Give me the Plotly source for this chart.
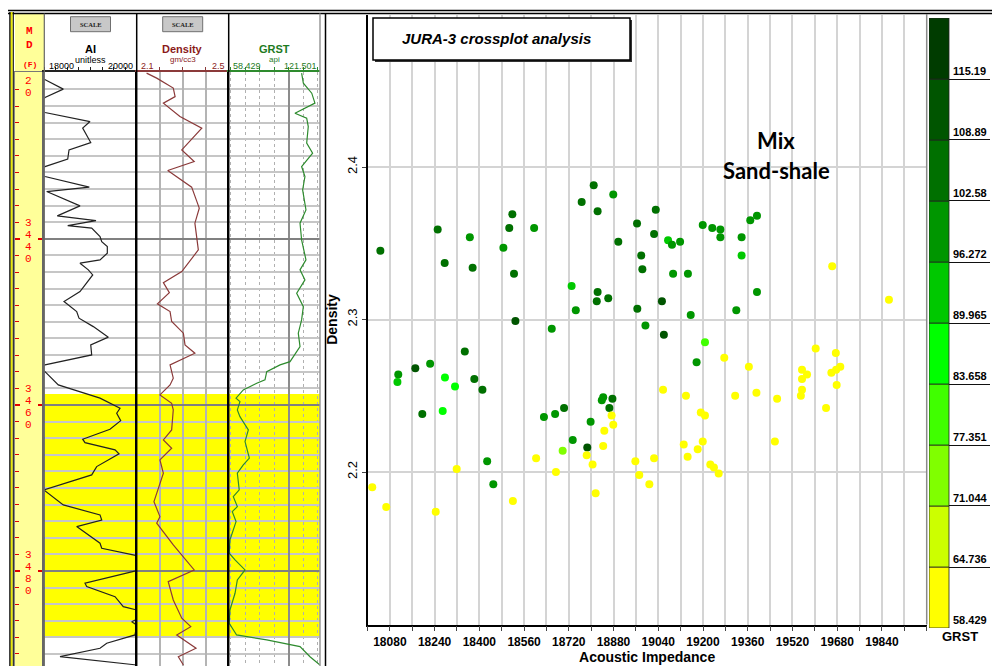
import plotly.graph_objects as go

W, H = 992, 666

# ---------------- well log curves (depth in ft) ----------------
AI_DEPTH = [3420.50, 3420.84, 3421.96, 3422.98, 3423.60, 3424.40, 3424.78, 3425.87, 3426.66, 3428.40,
            3429.28, 3430.40, 3431.29, 3431.70, 3432.20, 3432.49, 3433.77, 3434.30, 3436.02, 3437.23,
            3437.80, 3438.40, 3438.71, 3439.72, 3440.33, 3440.93, 3441.72, 3442.53, 3442.93, 3443.73,
            3444.34, 3446.35, 3447.55, 3448.76, 3449.55, 3450.57, 3451.84, 3452.77, 3453.98, 3455.18,
            3455.50, 3455.99, 3457.59, 3459.19, 3460.20, 3460.40, 3461.00, 3461.89, 3462.93, 3464.13,
            3464.54, 3465.42, 3465.90, 3467.43, 3468.43, 3470.24, 3472.05, 3473.25, 3473.86, 3474.66,
            3476.66, 3477.27, 3478.16, 3479.00, 3479.96, 3481.48, 3481.89, 3483.10, 3484.30, 3484.70,
            3485.30, 3486.11, 3486.51, 3487.71, 3488.71, 3489.31, 3490.33, 3491.33]
AI_VALUE = [17900, 18015, 18411, 18015, 17900, 17900, 18015, 18989, 18831, 19005,
            18535, 18507, 18015, 17900, 17900, 18015, 18974, 18052, 18773, 18281,
            19119, 18507, 19026, 19206, 19243, 19364, 19364, 19206, 18773, 18953,
            19048, 18773, 18427, 18701, 18751, 19061, 19386, 19005, 19026, 18015,
            17900, 18015, 18303, 19206, 19567, 19639, 19567, 19654, 19422, 18831,
            18881, 19531, 19617, 19134, 19026, 17990, 18411, 19206, 19243, 18701,
            19206, 19243, 20000, 20300, 20000, 18881, 18918, 19531, 19710, 20000,
            20200, 19892, 20000, 19964, 19351, 19206, 18340, 20000]

DEN_DEPTH = [3420.04, 3420.64, 3421.84, 3422.86, 3423.65, 3425.27, 3426.66, 3429.28, 3430.69, 3431.77,
             3433.77, 3436.30, 3438.11, 3439.72, 3441.33, 3443.94, 3445.27, 3446.47, 3447.83, 3448.76,
             3449.96, 3451.36, 3452.77, 3453.77, 3455.18, 3456.78, 3457.59, 3458.80, 3459.80, 3460.60,
             3463.01, 3464.22, 3465.22, 3466.63, 3468.23, 3471.65, 3473.46, 3474.25, 3476.87, 3479.88,
             3481.29, 3483.49, 3485.70, 3486.71, 3487.71, 3489.31, 3490.33, 3491.33]
DEN_VALUE = [2.143, 2.187, 2.259, 2.267, 2.216, 2.288, 2.383, 2.296, 2.350, 2.235,
             2.339, 2.372, 2.353, 2.361, 2.368, 2.296, 2.216, 2.242, 2.190, 2.245,
             2.252, 2.303, 2.310, 2.353, 2.245, 2.259, 2.245, 2.201, 2.252, 2.259,
             2.252, 2.216, 2.252, 2.201, 2.216, 2.175, 2.201, 2.187, 2.259, 2.350,
             2.237, 2.259, 2.296, 2.335, 2.274, 2.358, 2.281, 2.303]

GR_DEPTH = [3420.04, 3421.24, 3422.45, 3423.65, 3424.86, 3425.46, 3426.47, 3428.47, 3429.67, 3431.29,
            3432.49, 3434.10, 3436.51, 3438.11, 3440.12, 3442.53, 3443.73, 3444.94, 3446.54, 3448.16,
            3449.76, 3451.36, 3452.98, 3454.79, 3455.18, 3455.99, 3456.99, 3457.39, 3458.19, 3459.19,
            3459.60, 3460.60, 3461.41, 3463.01, 3464.42, 3466.42, 3467.23, 3468.23, 3470.24, 3471.05,
            3472.25, 3472.86, 3474.06, 3476.27, 3477.87, 3478.67, 3479.88, 3481.08, 3482.69, 3484.70,
            3486.30, 3487.71, 3488.31, 3489.12, 3490.33, 3491.33]
GR_VALUE = [108.8, 110.0, 115.8, 118.0, 104.2, 112.3, 113.4, 112.3, 116.4, 108.8,
            111.1, 109.5, 111.8, 107.7, 108.8, 111.8, 107.7, 111.1, 105.4, 110.0,
            108.8, 106.5, 107.7, 100.8, 93.9, 84.7, 83.5, 77.8, 68.5, 63.5,
            66.2, 64.4, 66.2, 72.0, 69.7, 72.7, 68.5, 64.4, 65.7, 61.6,
            64.4, 60.9, 63.5, 59.3, 58.8, 62.8, 69.7, 64.4, 62.8, 59.3,
            58.8, 63.9, 84.7, 107.7, 114.6, 121.5]

ZONE_TOP, ZONE_BASE = 3458.7, 3488.0
DEPTH_MARKS = [3420, 3440, 3460, 3480]
DEPTH_TOP, DEPTH_BOTTOM = 3419.9, 3491.45

AI_MIN, AI_MAX = 18000, 20000
DEN_MIN, DEN_MAX = 2.1, 2.5
GR_MIN, GR_MAX = 58.429, 121.501

# ---------------- crossplot samples ----------------
XP_AI = [18110, 18107, 18171, 18224, 18277, 18313, 18269, 18196, 18348, 18382,
         18411, 18529, 18659, 18745, 18820, 18861, 18965, 18994, 18428, 18450,
         18631, 18671, 18703, 18734, 18698, 18798, 18786, 18838, 18843, 18876,
         18865,
         18873, 18879, 18847, 18843, 18784, 18805, 18816, 18603, 18674, 18520,
         18319, 18244, 18067, 18017, 18958, 18972, 19008, 19025,
         18046, 18251, 18276, 18366, 18376, 18486, 18507, 18518, 18524, 18596,
         18730, 18766, 18809, 18823, 18823, 18879, 18897, 18964, 18979, 18983,
         19031, 19025, 19075, 19089, 19118, 19093, 19146, 19053, 19199, 19233,
         19262, 19262, 19338, 19338, 19369, 19393, 19393, 19319, 19662, 19865,
         19156, 19060, 19207, 19177,
         19276, 19364, 19057, 19139, 19315, 19391, 19465, 19192, 19207, 19603,
         19675, 19554, 19572, 19554, 19554, 19550, 19659, 19676, 19691, 19678,
         19640, 19457, 19131, 19199, 19181, 19145, 19226, 19239, 19256]
XP_DEN = [2.264, 2.259, 2.268, 2.271, 2.262, 2.256, 2.240, 2.238, 2.279, 2.261,
          2.254, 2.299, 2.294, 2.306, 2.312, 2.314, 2.307, 2.296, 2.207, 2.192,
          2.236, 2.238, 2.242, 2.221, 2.214, 2.233, 2.216, 2.247, 2.249, 2.248,
          2.242,
          2.237, 2.231, 2.227, 2.217, 2.211, 2.205, 2.186, 2.209, 2.200, 2.181,
          2.202, 2.174, 2.177, 2.190, 2.207, 2.198, 2.192, 2.209,
          2.345, 2.359, 2.337, 2.354, 2.334, 2.347, 2.360, 2.369, 2.330, 2.360,
          2.322, 2.377, 2.388, 2.371, 2.318, 2.382, 2.351, 2.363, 2.342, 2.333,
          2.372, 2.356, 2.352, 2.349, 2.351, 2.330, 2.330, 2.312, 2.362, 2.360,
          2.359, 2.354, 2.354, 2.342, 2.365, 2.368, 2.318, 2.306, 2.335, 2.313,
          2.303, 2.290, 2.285, 2.272,
          2.275, 2.269, 2.254, 2.250, 2.250, 2.252, 2.248, 2.239, 2.237, 2.281,
          2.278, 2.267, 2.264, 2.261, 2.254, 2.250, 2.265, 2.267, 2.269, 2.257,
          2.242, 2.220, 2.218, 2.220, 2.215, 2.210, 2.205, 2.203, 2.199]
XP_GR = [99, 90, 112, 99, 86, 86, 86, 106, 106, 106,
         106, 112, 99, 99, 106, 106, 106, 99, 99, 99,
         99, 99, 106, 99, 74, 99, 112, 99, 99, 106,
         106,
         61, 60, 62, 61, 60, 61, 62, 61, 60, 61,
         62, 61, 60, 61, 62, 61, 60, 61,
         106, 106, 106, 99, 106, 99, 106, 106, 106, 99,
         92, 106, 106, 106, 106, 99, 106, 106, 106, 106,
         106, 106, 92, 99, 99, 99, 99, 112, 99, 99,
         99, 99, 99, 92, 99, 99, 99, 99, 61, 61,
         99, 112, 80, 99,
         61, 60, 62, 61, 60, 61, 62, 61, 60, 61,
         62, 61, 60, 61, 62, 61, 60, 61, 62, 61,
         60, 61, 62, 61, 60, 61, 62, 61, 60]

X_TICKS = [18080, 18240, 18400, 18560, 18720, 18880, 19040, 19200, 19360, 19520, 19680, 19840]
Y_TICKS = [2.2, 2.3, 2.4]

BAND_EDGES = [58.429, 64.736, 71.044, 77.351, 83.658, 89.965, 96.272, 102.58, 108.89, 115.19, 121.501]
BAND_LABELS = ["58.429", "64.736", "71.044", "77.351", "83.658", "89.965", "96.272", "102.58", "108.89", "115.19"]
BAND_COLORS = ["#FFFF00", "#CCFF00", "#80FF00", "#40FF00", "#00FF00",
               "#00C800", "#009600", "#007000", "#005500", "#003C00"]

# ---------------- page geometry (pixels) ----------------
DEPTH_COL = (15, 44.3)
AI_COL = (44.3, 136.7)
DEN_COL = (136.7, 228.7)
GR_COL = (228.7, 320)
TRACK_TOP = 72
XP_XPX = (367.5, 926.7)
XP_YPX = (14.5, 624.5)
KEY_XPX = (929, 990)
KEY_YPX = (18, 628)
KEY_BAR_W = 20


def fx(px):
    return px / W


def fy(py):
    return 1 - py / H


PX_PER_FT = (H - TRACK_TOP) / (DEPTH_BOTTOM - DEPTH_TOP)
DEPTH_RANGE = [DEPTH_BOTTOM, DEPTH_TOP]
TRACK_DOMAIN = [0, fy(TRACK_TOP)]

# discrete colour scale for GRST
span = GR_MAX - GR_MIN
colorscale = []
for i, c in enumerate(BAND_COLORS):
    colorscale.append([(BAND_EDGES[i] - GR_MIN) / span, c])
    colorscale.append([(BAND_EDGES[i + 1] - GR_MIN) / span, c])
colorscale[0][0] = 0.0
colorscale[-1][0] = 1.0

fig = go.Figure()

# depth labels written vertically, one digit per line; digits above the
# top of the track are left out
DIGIT_STEP_PX, DIGIT_SHIFT_PX = 12.0, 2.0
dig_y, dig_t = [], []
for d in DEPTH_MARKS:
    s = str(d)
    for i, ch in enumerate(s):
        off_px = DIGIT_SHIFT_PX + (i - (len(s) - 1) / 2) * DIGIT_STEP_PX
        yv = d + off_px / PX_PER_FT
        if yv - 4 / PX_PER_FT < DEPTH_TOP:
            continue
        dig_y.append(yv)
        dig_t.append(ch)
fig.add_trace(go.Scatter(x=[0.45] * len(dig_y), y=dig_y, text=dig_t, mode="text",
                         textfont=dict(family="Liberation Mono", size=11, color="#FF0000"),
                         cliponaxis=True, hoverinfo="skip", xaxis="x", yaxis="y"))
fig.add_trace(go.Scatter(x=[0.5] * len(DEPTH_MARKS), y=DEPTH_MARKS, mode="markers",
                         marker=dict(opacity=0), hoverinfo="skip", xaxis="x", yaxis="y7"))

fig.add_trace(go.Scatter(x=AI_VALUE, y=AI_DEPTH, mode="lines", line=dict(color="#222222", width=1.2),
                         xaxis="x2", yaxis="y2", hoverinfo="skip"))
fig.add_trace(go.Scatter(x=DEN_VALUE, y=DEN_DEPTH, mode="lines", line=dict(color="#8B3A3A", width=1.2),
                         xaxis="x3", yaxis="y3", hoverinfo="skip"))
fig.add_trace(go.Scatter(x=GR_VALUE, y=GR_DEPTH, mode="lines", line=dict(color="#2E8B2E", width=1.2),
                         xaxis="x4", yaxis="y4", hoverinfo="skip"))

fig.add_trace(go.Scatter(x=XP_AI, y=XP_DEN, mode="markers",
                         marker=dict(size=8, color=XP_GR, colorscale=colorscale, cmin=GR_MIN, cmax=GR_MAX,
                                     line=dict(width=0), showscale=False),
                         xaxis="x5", yaxis="y5"))

# GRST colour key as stacked bars
fig.add_trace(go.Bar(x=[0.5] * len(BAND_COLORS),
                     y=[BAND_EDGES[i + 1] - BAND_EDGES[i] for i in range(len(BAND_COLORS))],
                     base=BAND_EDGES[:-1], width=1,
                     marker=dict(color=BAND_COLORS, line=dict(color="#222222", width=0.8)),
                     xaxis="x6", yaxis="y6", hoverinfo="skip"))


def track_y(anchor, linecolor):
    return dict(domain=TRACK_DOMAIN, range=DEPTH_RANGE, anchor=anchor, showticklabels=False, ticks="",
                zeroline=False, tick0=3400, dtick=20, showgrid=True, gridcolor="#808080", gridwidth=2,
                minor=dict(tick0=3400, dtick=2, showgrid=True, gridcolor="#C6C6C6", gridwidth=1.5),
                showline=True, linecolor=linecolor, linewidth=1.5)


def track_x(col, anchor, rng, color, **kw):
    d = dict(domain=[fx(col[0]), fx(col[1])], range=rng, anchor=anchor, side="top",
             showline=True, linecolor=color, linewidth=2, showticklabels=False,
             ticks="outside", ticklen=3, tickcolor=color, zeroline=False, showgrid=False)
    d.update(kw)
    return d


axis_font = dict(family="Liberation Sans", color="black")

fig.update_layout(
    width=W, height=H, autosize=False, margin=dict(l=0, r=0, t=0, b=0),
    paper_bgcolor="white", plot_bgcolor="rgba(0,0,0,0)", showlegend=False, barmode="overlay",
    xaxis=dict(domain=[fx(DEPTH_COL[0]), fx(DEPTH_COL[1])], range=[0, 1], anchor="y", side="top",
               showline=True, linecolor="#777777", showticklabels=False, ticks="", showgrid=False,
               zeroline=False),
    yaxis=dict(domain=TRACK_DOMAIN, range=DEPTH_RANGE, anchor="x", showticklabels=False, showgrid=False,
               zeroline=False, ticks="inside", tick0=3400, dtick=20, ticklen=5, tickwidth=2,
               tickcolor="#E00000",
               minor=dict(tick0=3400, dtick=2, ticks="inside", ticklen=4, tickwidth=1, tickcolor="#E00000"),
               showline=True, linecolor="#888888", linewidth=1),
    yaxis7=dict(range=DEPTH_RANGE, overlaying="y", side="right", anchor="x", showticklabels=False,
                showgrid=False, zeroline=False, ticks="inside", tick0=3400, dtick=20, ticklen=6,
                tickwidth=2, tickcolor="#E00000", showline=False),
    xaxis2=track_x(AI_COL, "y2", [AI_MIN, AI_MAX], "#222222", tick0=18000, dtick=250),
    yaxis2=track_y("x2", "#666666"),
    xaxis3=track_x(DEN_COL, "y3", [DEN_MIN, DEN_MAX], "#8B3A3A", tick0=2.1, dtick=0.1,
                   showgrid=True, gridcolor="#B4B4B4", gridwidth=1.5),
    yaxis3=track_y("x3", "black"),
    xaxis4=track_x(GR_COL, "y4", [GR_MIN, GR_MAX], "#2E8B2E", tick0=0, dtick=50,
                   showgrid=True, gridcolor="#8C8C8C", gridwidth=1.5,
                   minor=dict(tick0=0, dtick=10, showgrid=True, gridcolor="#B0B0B0", griddash="dot",
                              gridwidth=1, ticks="outside", ticklen=3, tickcolor="#2E8B2E")),
    yaxis4=track_y("x4", "black"),
    xaxis5=dict(domain=[fx(XP_XPX[0]), fx(XP_XPX[1])], range=[AI_MIN, AI_MAX], anchor="y5",
                tickvals=X_TICKS, tickformat="d", ticks="outside", ticklen=5, tickcolor="#444444",
                showgrid=True, gridcolor="#D4D4D4", gridwidth=1.5,
                minor=dict(tick0=X_TICKS[0], dtick=80, showgrid=True, gridcolor="#D4D4D4", gridwidth=1.5,
                           ticks="outside", ticklen=5, tickcolor="#444444"),
                showline=True, linecolor="black", linewidth=1.5, zeroline=False,
                tickfont=dict(size=12, weight="bold", **axis_font),
                title=dict(text="Acoustic Impedance", standoff=2,
                           font=dict(size=14, weight="bold", **axis_font))),
    yaxis5=dict(domain=[fy(XP_YPX[1]), fy(XP_YPX[0])], range=[DEN_MIN, DEN_MAX], anchor="x5",
                tickvals=Y_TICKS, tickangle=-90, ticks="outside", ticklen=4, tickcolor="#444444",
                showgrid=True, gridcolor="#D4D4D4", gridwidth=1.5,
                showline=True, linecolor="black", linewidth=1.5, zeroline=False,
                tickfont=dict(size=13, **axis_font),
                title=dict(text="Density", standoff=4, font=dict(size=14, weight="bold", **axis_font))),
    xaxis6=dict(domain=[fx(KEY_XPX[0]), fx(KEY_XPX[1])],
                range=[0, (KEY_XPX[1] - KEY_XPX[0]) / KEY_BAR_W], anchor="y6", visible=False),
    yaxis6=dict(domain=[fy(KEY_YPX[1]), fy(KEY_YPX[0])], range=[GR_MIN, GR_MAX], anchor="free",
                position=fx(KEY_XPX[0] + KEY_BAR_W), tickvals=BAND_EDGES[:-1], ticktext=BAND_LABELS,
                ticklabelposition="inside top", ticks="", showgrid=True, gridcolor="#111111", gridwidth=1,
                showline=False, zeroline=False,
                tickfont=dict(size=11, weight="bold", **axis_font)),
)

# ---------------- shapes ----------------
shapes = []


def vline(xp, y0p, y1p, color, width, layer="above"):
    shapes.append(dict(type="line", xref="paper", yref="paper", x0=fx(xp), x1=fx(xp), y0=fy(y0p), y1=fy(y1p),
                       line=dict(color=color, width=width), layer=layer))


def hline(yp, x0p, x1p, color, width, layer="above"):
    shapes.append(dict(type="line", xref="paper", yref="paper", x0=fx(x0p), x1=fx(x1p), y0=fy(yp), y1=fy(yp),
                       line=dict(color=color, width=width), layer=layer))


# MD column background
shapes.append(dict(type="rect", xref="paper", yref="paper", x0=fx(DEPTH_COL[0]), x1=fx(DEPTH_COL[1]),
                   y0=0, y1=fy(13), fillcolor="#FFFF99", line=dict(width=0), layer="below"))
# highlighted sand interval across the log tracks
shapes.append(dict(type="rect", xref="paper", yref="y2", x0=fx(AI_COL[0]), x1=fx(GR_COL[1]),
                   y0=ZONE_TOP, y1=ZONE_BASE, fillcolor="#FFFF00", line=dict(width=0), layer="below"))

# frame lines
hline(10.5, 8, W, "black", 1.5)
hline(13.5, 8, W, "black", 1.5)
vline(10, 12, H, "black", 1.5)
vline(11.7, 12, H, "#E8E800", 2)
vline(13.3, 12, H, "black", 1)
vline(AI_COL[0], 13.5, H, "#666666", 1.2)
vline(DEN_COL[0], 13.5, H, "black", 1.5)
vline(GR_COL[0], 13.5, H, "black", 1.5)
vline(GR_COL[1], 13.5, H, "#999999", 1.5)
vline(325.5, 13.5, H, "black", 1.5)
vline(XP_XPX[1], 14, XP_YPX[1], "#8A8A8A", 1.5)

# scale buttons in the AI and density headers
btn_centers = [(AI_COL[0] + AI_COL[1]) / 2, (DEN_COL[0] + DEN_COL[1]) / 2]
for c in btn_centers:
    shapes.append(dict(type="rect", xref="paper", yref="paper", x0=fx(c - 20), x1=fx(c + 20),
                       y0=fy(31.7), y1=fy(16.7), fillcolor="#C8C8C8", line=dict(color="#707070", width=1),
                       layer="above"))

# title box with drop shadow
shapes.append(dict(type="rect", xref="paper", yref="paper", x0=fx(375), x1=fx(632), y0=fy(62), y1=fy(20),
                   fillcolor="#333333", line=dict(width=0), layer="above"))
shapes.append(dict(type="rect", xref="paper", yref="paper", x0=fx(373), x1=fx(630), y0=fy(60), y1=fy(18),
                   fillcolor="white", line=dict(color="black", width=1.5), layer="above"))

fig.update_layout(shapes=shapes)

# ---------------- annotations ----------------
anns = []


def ann(text, xp, yp, size=9, color="black", family="Liberation Sans", xanchor="center", bold=False,
        italic=False):
    t = text
    if italic:
        t = f"<i>{t}</i>"
    if bold:
        t = f"<b>{t}</b>"
    anns.append(dict(text=t, x=fx(xp), y=fy(yp), xref="paper", yref="paper", xanchor=xanchor,
                     yanchor="middle", showarrow=False, font=dict(size=size, color=color, family=family)))


md_x = (DEPTH_COL[0] + DEPTH_COL[1]) / 2
ann("M", md_x, 31, 11, "#FF0000", "Liberation Mono", bold=True)
ann("D", md_x, 44.5, 11, "#FF0000", "Liberation Mono", bold=True)
ann("(F)", md_x, 64, 8, "#FF0000", "Liberation Mono", bold=True)

for c in btn_centers:
    ann("SCALE", c, 24.5, 6.5, "#222222", "Liberation Serif", bold=True)

ai_c = (AI_COL[0] + AI_COL[1]) / 2
den_c = (DEN_COL[0] + DEN_COL[1]) / 2
gr_c = (GR_COL[0] + GR_COL[1]) / 2
ann("AI", ai_c, 49, 11, "black", bold=True)
ann("unitless", ai_c, 59.5, 9, "black")
ann(f"{AI_MIN}", AI_COL[0] + 3, 66, 9, "black", xanchor="left")
ann(f"{AI_MAX}", AI_COL[1] - 2, 66, 9, "black", xanchor="right")

den_color = "#8B1A1A"
ann("Density", den_c, 49, 11, den_color, bold=True)
ann("gm/cc3", den_c, 59.5, 8, den_color)
ann(f"{DEN_MIN}", DEN_COL[0] + 2, 66, 9, den_color, xanchor="left")
ann(f"{DEN_MAX}", DEN_COL[1] - 2, 66, 9, den_color, xanchor="right")

gr_color = "#1E7B1E"
ann("GRST", gr_c, 49, 11, gr_color, bold=True)
ann("api", gr_c, 59.5, 8, gr_color)
ann(f"{GR_MIN}", GR_COL[0] + 2, 66, 9, gr_color, xanchor="left")
ann(f"{GR_MAX}", GR_COL[1] - 1, 66, 9, gr_color, xanchor="right")

ann("JURA-3 crossplot analysis", 496, 39, 15, "black", bold=True, italic=True)
ann("Mix", 776, 140, 22, "black", "Lato", bold=True)
ann("Sand-shale", 776, 170, 22, "black", "Lato", bold=True)
ann("GRST", (KEY_XPX[0] + KEY_XPX[1]) / 2, 636, 13, "black", bold=True)

fig.update_layout(annotations=anns)

fig.write_html("out.html")
